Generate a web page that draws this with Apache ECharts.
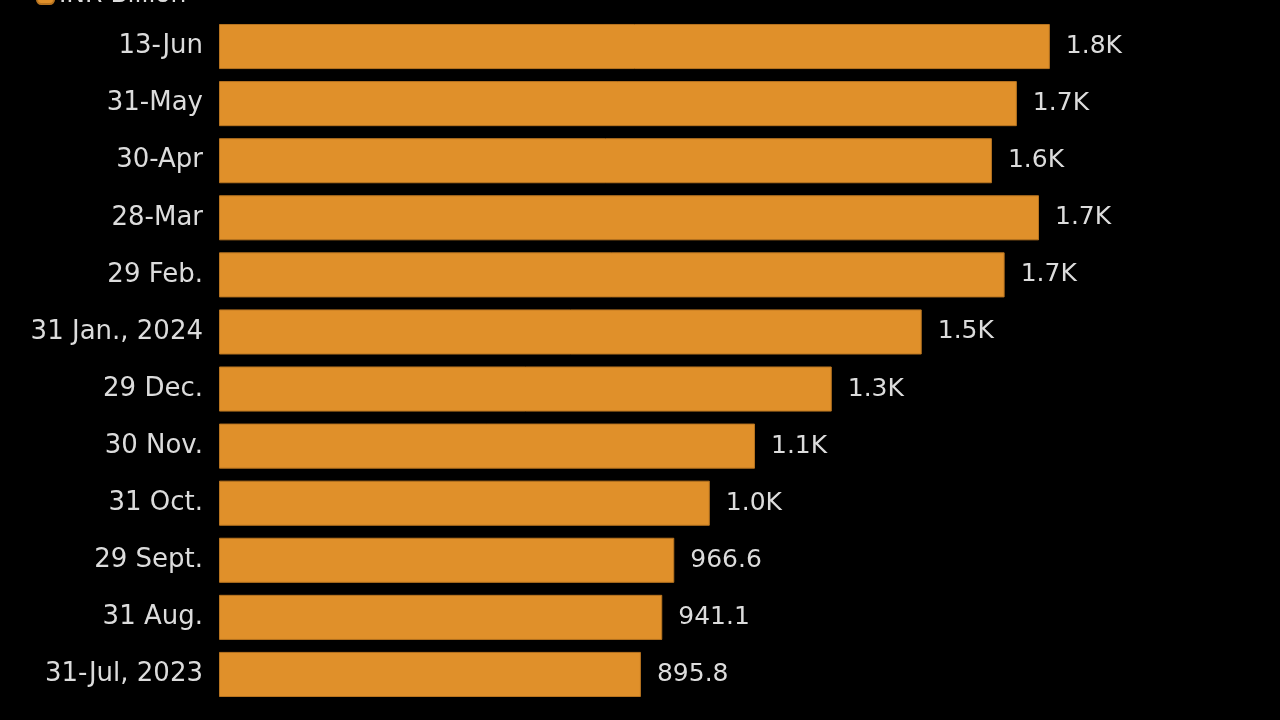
<!DOCTYPE html>
<html><head><meta charset="utf-8">
<script src="https://cdn.jsdelivr.net/npm/echarts@6/dist/echarts.min.js"></script>
<style>html,body{margin:0;padding:0;background:#000;}#c{width:1280px;height:720px;}</style>
</head><body><div id="c"></div>
<script>
const categories = ['13-Jun','31-May','30-Apr','28-Mar','29 Feb.','31 Jan., 2024','29 Dec.','30 Nov.','31 Oct.','29 Sept.','31 Aug.','31-Jul, 2023'];
const values = [1764, 1694, 1641, 1741, 1668, 1492, 1301, 1138, 1042, 966.6, 941.1, 895.8];
const seriesName = 'INR Billion';

function fmt(v){ return v >= 1000 ? (v/1000).toFixed(1) + 'K' : v.toFixed(1); }

const chart = echarts.init(document.getElementById('c'));
chart.setOption({
  backgroundColor: '#000',
  animation: false,
  legend: {
    data: [seriesName], left: 31, top: -22, itemWidth: 17, itemHeight: 17, itemGap: 12,
    textStyle: { color: '#dcdcdc', fontSize: 25, fontFamily: 'DejaVu Sans' }
  },
  grid: { left: 219, right: 119, top: 18, bottom: 17 },
  xAxis: { type: 'value', min: 0, max: 2000, show: false },
  yAxis: {
    type: 'category', data: categories, inverse: true,
    axisLine: { show: false }, axisTick: { show: false },
    axisLabel: { color: '#dcdcdc', fontSize: 26, margin: 16, fontFamily: 'DejaVu Sans' }
  },
  series: [{
    name: seriesName, type: 'bar', data: values, barCategoryGap: '21%',
    itemStyle: { color: '#E0902A', borderColor: '#b87420', borderWidth: 1 },
    label: { show: true, position: 'right', distance: 16, color: '#dcdcdc', fontSize: 25, fontFamily: 'DejaVu Sans',
      formatter: p => fmt(p.value) }
  }]
});
</script></body></html>
